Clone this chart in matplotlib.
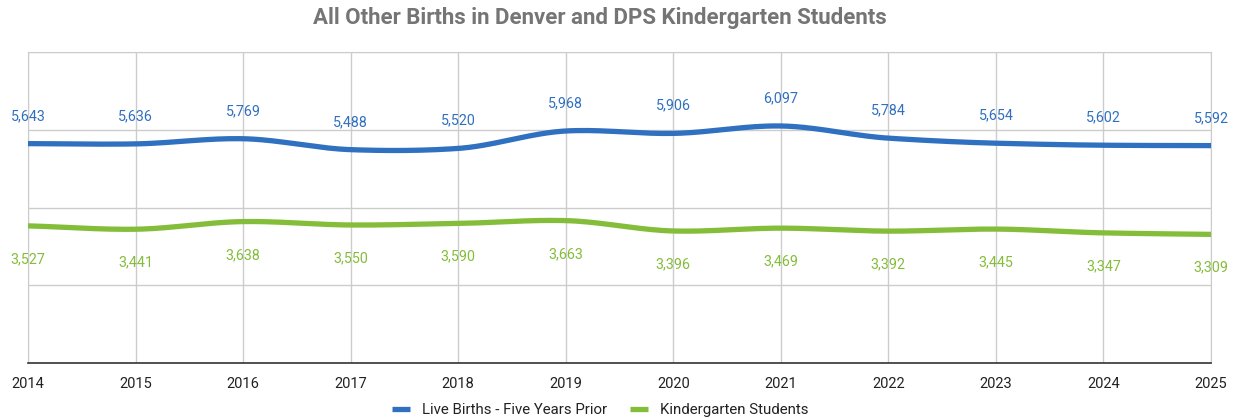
import numpy as np
import matplotlib.pyplot as plt

plt.rcParams['font.family'] = ['Roboto', 'DejaVu Sans']

# data
years = [2014, 2015, 2016, 2017, 2018, 2019, 2020, 2021, 2022, 2023, 2024, 2025]
live_births = [5643, 5636, 5769, 5488, 5520, 5968, 5906, 6097, 5784, 5654, 5602, 5592]
kinder = [3527, 3441, 3638, 3550, 3590, 3663, 3396, 3469, 3392, 3445, 3347, 3309]

blue = '#2f70c0'
green = '#84bd3a'


# smooth curve through points (like google charts "function" curve)
def smooth(x, y, n=30):
    x = np.asarray(x, float)
    y = np.asarray(y, float)
    m = np.gradient(y, x) * 0.8
    xs, ys = [], []
    for i in range(len(x) - 1):
        h = x[i + 1] - x[i]
        t = np.linspace(0, 1, n)
        h00 = 2 * t**3 - 3 * t**2 + 1
        h10 = t**3 - 2 * t**2 + t
        h01 = -2 * t**3 + 3 * t**2
        h11 = t**3 - t**2
        xs.append(x[i] + t * h)
        ys.append(h00 * y[i] + h10 * h * m[i] + h01 * y[i + 1] + h11 * h * m[i + 1])
    return np.concatenate(xs), np.concatenate(ys)


fig = plt.figure(figsize=(12.35, 4.18), dpi=100)
ax = fig.add_axes([28 / 1235, 1 - 363 / 418, (1211 - 28) / 1235, (363 - 52) / 418])

sx, sy = smooth(years, live_births)
ax.plot(sx, sy, color=blue, lw=3.8, solid_capstyle='butt', label='Live Births - Five Years Prior', zorder=3)
sx, sy = smooth(years, kinder)
ax.plot(sx, sy, color=green, lw=3.8, solid_capstyle='butt', label='Kindergarten Students', zorder=3)

for x, v in zip(years, live_births):
    ax.annotate(f'{v:,}', (x, v), xytext=(0, 20), textcoords='offset points',
                ha='center', va='center', color=blue, fontsize=10.3)
for x, v in zip(years, kinder):
    ax.annotate(f'{v:,}', (x, v), xytext=(0, -24), textcoords='offset points',
                ha='center', va='center', color=green, fontsize=10.3)

ax.set_xlim(2014, 2025)
ax.set_ylim(0, 8000)
ax.set_xticks(years)
ax.set_yticks([0, 2000, 4000, 6000, 8000])
ax.set_yticklabels([])
ax.tick_params(axis='y', length=0)
ax.tick_params(axis='x', length=0, pad=10, labelsize=10.5, labelcolor='#222222')
ax.grid(True, color='#cccccc', lw=1)
ax.set_axisbelow(True)
for s in ['top', 'right', 'left']:
    ax.spines[s].set_color('#cccccc')
ax.spines['bottom'].set_color('#333333')
ax.spines['bottom'].set_linewidth(1.2)
ax.spines['bottom'].set_zorder(4)

fig.text(600 / 1235, 1 - 18 / 418, 'All Other Births in Denver and DPS Kindergarten Students',
         ha='center', va='center', fontsize=16, fontweight='bold', color='#757575')

leg = fig.legend(loc='center', bbox_to_anchor=(600 / 1235, 1 - 410 / 418), ncol=2, frameon=False,
                 fontsize=10.8, handlelength=1.2, columnspacing=1.5, handletextpad=0.8)
for t in leg.get_texts():
    t.set_color('#222222')

fig.savefig('out.png', dpi=100)
